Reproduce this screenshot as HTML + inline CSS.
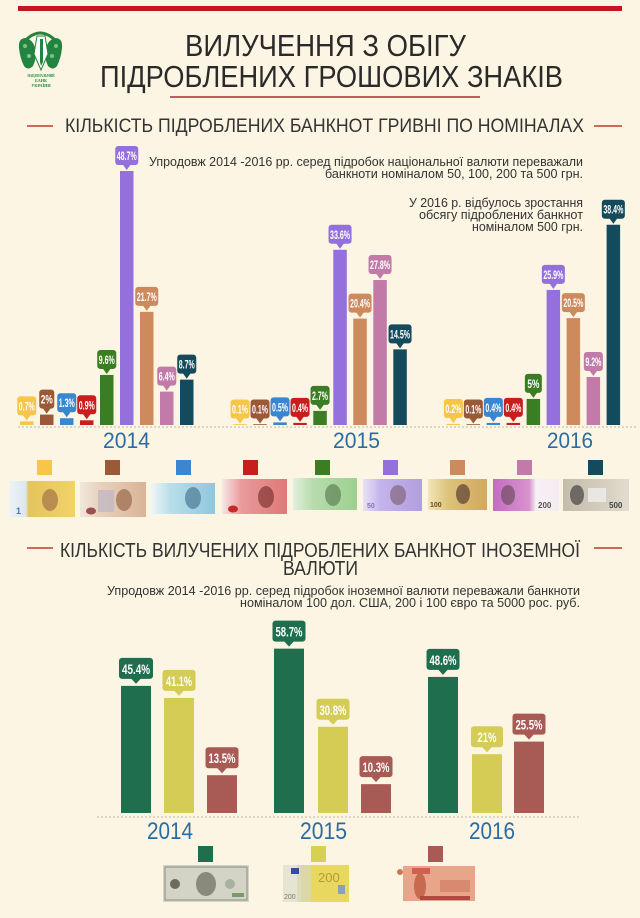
<!DOCTYPE html>
<html><head><meta charset="utf-8"><style>
html,body{margin:0;padding:0;background:#fcf5e3;}
svg{display:block;}
.t{font-family:"Liberation Sans Narrow","Liberation Sans",sans-serif;}
.p{font-family:"Liberation Sans",sans-serif;fill:#333;font-size:12.5px;}
.lb{font-family:"Liberation Sans Narrow","Liberation Sans",sans-serif;fill:#fff;font-size:12px;font-weight:bold;text-anchor:middle;}
.lb2{font-family:"Liberation Sans Narrow","Liberation Sans",sans-serif;fill:#fff;font-size:14px;font-weight:bold;text-anchor:middle;}
.yr{font-family:"Liberation Sans Narrow","Liberation Sans",sans-serif;fill:#2b6ca3;}
</style></head><body>
<svg width="640" height="918" viewBox="0 0 640 918" xmlns="http://www.w3.org/2000/svg">
<rect width="640" height="918" fill="#fcf5e3"/>
<rect x="18" y="6" width="604" height="5" fill="#c8141e"/>

<!-- logo -->
<g>
  <path d="M24,42 Q40,24 57,42" fill="none" stroke="#23843f" stroke-width="3"/>
  <path d="M19,48 Q18,38 26,38 Q33,40 35,48 Q37,58 33,66 Q28,71 24,66 Q20,58 19,48 Z" fill="#23843f"/>
  <path d="M62,48 Q63,38 55,38 Q48,40 46,48 Q44,58 48,66 Q53,71 57,66 Q61,58 62,48 Z" fill="#23843f"/>
  <circle cx="25" cy="46" r="2" fill="#7cc08a"/><circle cx="29" cy="56" r="2" fill="#7cc08a"/>
  <circle cx="56" cy="46" r="2" fill="#7cc08a"/><circle cx="52" cy="56" r="2" fill="#7cc08a"/>
  <path d="M37,36 L45,36 L48,54 L41,70 L34,54 Z" fill="#fff" stroke="#23843f" stroke-width="1"/>
  <path d="M40,39 L43,39 L43,62 L41,66 L40,62 Z" fill="#23843f"/>
  <text x="41" y="77" font-family="Liberation Serif,serif" font-size="4.2" font-weight="bold" fill="#23843f" text-anchor="middle" textLength="27" lengthAdjust="spacingAndGlyphs">НАЦІОНАЛЬНИЙ</text>
  <text x="41" y="82" font-family="Liberation Serif,serif" font-size="4.2" font-weight="bold" fill="#23843f" text-anchor="middle">БАНК</text>
  <text x="41" y="87" font-family="Liberation Serif,serif" font-size="4.2" font-weight="bold" fill="#23843f" text-anchor="middle">УКРАЇНИ</text>
</g>

<text class="t" x="185" y="56" font-size="31" fill="#2a2a2a" textLength="281" lengthAdjust="spacingAndGlyphs">ВИЛУЧЕННЯ З ОБІГУ</text>
<text class="t" x="100" y="87" font-size="31" fill="#2a2a2a" textLength="463" lengthAdjust="spacingAndGlyphs">ПІДРОБЛЕНИХ ГРОШОВИХ ЗНАКІВ</text>
<line x1="170" y1="97" x2="480" y2="97" stroke="#b02a2a" stroke-width="1.5"/>

<line x1="27" y1="126" x2="53" y2="126" stroke="#c0392b" stroke-width="1.5"/>
<line x1="594" y1="126" x2="622" y2="126" stroke="#c0392b" stroke-width="1.5"/>
<text class="t" x="65" y="132" font-size="19" fill="#333" textLength="519" lengthAdjust="spacingAndGlyphs">КІЛЬКІСТЬ ПІДРОБЛЕНИХ БАНКНОТ ГРИВНІ ПО НОМІНАЛАХ</text>

<text class="p" x="149" y="166" textLength="434" lengthAdjust="spacingAndGlyphs">Упродовж 2014 -2016 рр. серед підробок національної валюти переважали</text>
<text class="p" x="325" y="178" textLength="258" lengthAdjust="spacingAndGlyphs">банкноти номіналом 50, 100, 200 та 500 грн.</text>
<text class="p" x="409" y="207" textLength="174" lengthAdjust="spacingAndGlyphs">У 2016 р. відбулось зростання</text>
<text class="p" x="419" y="219" textLength="164" lengthAdjust="spacingAndGlyphs">обсягу підроблених банкнот</text>
<text class="p" x="472" y="231" textLength="111" lengthAdjust="spacingAndGlyphs">номіналом 500 грн.</text>

<line x1="18" y1="427" x2="636" y2="427" stroke="#bdb8aa" stroke-width="1" stroke-dasharray="2,2"/>

<rect x="20" y="421.35" width="13.5" height="3.65" fill="#f6c54a"/>
<rect x="40" y="414.57" width="13.5" height="10.43" fill="#9a5a38"/>
<rect x="60" y="418.22" width="13.5" height="6.78" fill="#3a86d0"/>
<rect x="80" y="420.31" width="13.5" height="4.69" fill="#c81e1e"/>
<rect x="100" y="374.94" width="13.5" height="50.06" fill="#3b7d22"/>
<rect x="120" y="171.03" width="13.5" height="253.97" fill="#9370db"/>
<rect x="140" y="311.83" width="13.5" height="113.17" fill="#cd8a5c"/>
<rect x="160" y="391.62" width="13.5" height="33.38" fill="#c27ba8"/>
<rect x="180" y="379.63" width="13.5" height="45.37" fill="#134b5c"/>
<rect x="233.3" y="424.2" width="13.5" height="0.8" fill="#f6c54a"/>
<rect x="253.3" y="424.2" width="13.5" height="0.8" fill="#9a5a38"/>
<rect x="273.3" y="422.39" width="13.5" height="2.61" fill="#3a86d0"/>
<rect x="293.3" y="422.91" width="13.5" height="2.09" fill="#c81e1e"/>
<rect x="313.3" y="410.92" width="13.5" height="14.08" fill="#3b7d22"/>
<rect x="333.3" y="249.78" width="13.5" height="175.22" fill="#9370db"/>
<rect x="353.3" y="318.61" width="13.5" height="106.39" fill="#cd8a5c"/>
<rect x="373.3" y="280.02" width="13.5" height="144.98" fill="#c27ba8"/>
<rect x="393.3" y="349.38" width="13.5" height="75.62" fill="#134b5c"/>
<rect x="446.6" y="423.96" width="13.5" height="1.04" fill="#f6c54a"/>
<rect x="466.6" y="424.2" width="13.5" height="0.8" fill="#9a5a38"/>
<rect x="486.6" y="422.91" width="13.5" height="2.09" fill="#3a86d0"/>
<rect x="506.6" y="422.91" width="13.5" height="2.09" fill="#c81e1e"/>
<rect x="526.6" y="398.92" width="13.5" height="26.08" fill="#3b7d22"/>
<rect x="546.6" y="289.93" width="13.5" height="135.07" fill="#9370db"/>
<rect x="566.6" y="318.09" width="13.5" height="106.91" fill="#cd8a5c"/>
<rect x="586.6" y="377.02" width="13.5" height="47.98" fill="#c27ba8"/>
<rect x="606.6" y="224.74" width="13.5" height="200.26" fill="#134b5c"/>

<g transform="translate(26.75,421.35)" fill="#f6c54a"><rect x="-9.5" y="-25" width="19" height="19" rx="3"/><polygon points="-4,-6.5 4,-6.5 0,-1"/><text class="lb" x="0" y="-11" textLength="16" lengthAdjust="spacingAndGlyphs">0.7%</text></g>
<g transform="translate(46.75,414.57)" fill="#9a5a38"><rect x="-7.5" y="-25" width="15" height="19" rx="3"/><polygon points="-4,-6.5 4,-6.5 0,-1"/><text class="lb" x="0" y="-11" textLength="12" lengthAdjust="spacingAndGlyphs">2%</text></g>
<g transform="translate(66.75,418.22)" fill="#3a86d0"><rect x="-9.5" y="-25" width="19" height="19" rx="3"/><polygon points="-4,-6.5 4,-6.5 0,-1"/><text class="lb" x="0" y="-11" textLength="16" lengthAdjust="spacingAndGlyphs">1.3%</text></g>
<g transform="translate(86.75,420.31)" fill="#c81e1e"><rect x="-9.5" y="-25" width="19" height="19" rx="3"/><polygon points="-4,-6.5 4,-6.5 0,-1"/><text class="lb" x="0" y="-11" textLength="16" lengthAdjust="spacingAndGlyphs">0.9%</text></g>
<g transform="translate(106.75,374.94)" fill="#3b7d22"><rect x="-9.5" y="-25" width="19" height="19" rx="3"/><polygon points="-4,-6.5 4,-6.5 0,-1"/><text class="lb" x="0" y="-11" textLength="16" lengthAdjust="spacingAndGlyphs">9.6%</text></g>
<g transform="translate(126.75,171.03)" fill="#9370db"><rect x="-11.5" y="-25" width="23" height="19" rx="3"/><polygon points="-4,-6.5 4,-6.5 0,-1"/><text class="lb" x="0" y="-11" textLength="20" lengthAdjust="spacingAndGlyphs">48.7%</text></g>
<g transform="translate(146.75,311.83)" fill="#cd8a5c"><rect x="-11.5" y="-25" width="23" height="19" rx="3"/><polygon points="-4,-6.5 4,-6.5 0,-1"/><text class="lb" x="0" y="-11" textLength="20" lengthAdjust="spacingAndGlyphs">21.7%</text></g>
<g transform="translate(166.75,391.62)" fill="#c27ba8"><rect x="-9.5" y="-25" width="19" height="19" rx="3"/><polygon points="-4,-6.5 4,-6.5 0,-1"/><text class="lb" x="0" y="-11" textLength="16" lengthAdjust="spacingAndGlyphs">6.4%</text></g>
<g transform="translate(186.75,379.63)" fill="#134b5c"><rect x="-9.5" y="-25" width="19" height="19" rx="3"/><polygon points="-4,-6.5 4,-6.5 0,-1"/><text class="lb" x="0" y="-11" textLength="16" lengthAdjust="spacingAndGlyphs">8.7%</text></g>
<g transform="translate(240.05,424.48)" fill="#f6c54a"><rect x="-9.5" y="-25" width="19" height="19" rx="3"/><polygon points="-4,-6.5 4,-6.5 0,-1"/><text class="lb" x="0" y="-11" textLength="16" lengthAdjust="spacingAndGlyphs">0.1%</text></g>
<g transform="translate(260.05,424.48)" fill="#9a5a38"><rect x="-9.5" y="-25" width="19" height="19" rx="3"/><polygon points="-4,-6.5 4,-6.5 0,-1"/><text class="lb" x="0" y="-11" textLength="16" lengthAdjust="spacingAndGlyphs">0.1%</text></g>
<g transform="translate(280.05,422.39)" fill="#3a86d0"><rect x="-9.5" y="-25" width="19" height="19" rx="3"/><polygon points="-4,-6.5 4,-6.5 0,-1"/><text class="lb" x="0" y="-11" textLength="16" lengthAdjust="spacingAndGlyphs">0.5%</text></g>
<g transform="translate(300.05,422.91)" fill="#c81e1e"><rect x="-9.5" y="-25" width="19" height="19" rx="3"/><polygon points="-4,-6.5 4,-6.5 0,-1"/><text class="lb" x="0" y="-11" textLength="16" lengthAdjust="spacingAndGlyphs">0.4%</text></g>
<g transform="translate(320.05,410.92)" fill="#3b7d22"><rect x="-9.5" y="-25" width="19" height="19" rx="3"/><polygon points="-4,-6.5 4,-6.5 0,-1"/><text class="lb" x="0" y="-11" textLength="16" lengthAdjust="spacingAndGlyphs">2.7%</text></g>
<g transform="translate(340.05,249.78)" fill="#9370db"><rect x="-11.5" y="-25" width="23" height="19" rx="3"/><polygon points="-4,-6.5 4,-6.5 0,-1"/><text class="lb" x="0" y="-11" textLength="20" lengthAdjust="spacingAndGlyphs">33.6%</text></g>
<g transform="translate(360.05,318.61)" fill="#cd8a5c"><rect x="-11.5" y="-25" width="23" height="19" rx="3"/><polygon points="-4,-6.5 4,-6.5 0,-1"/><text class="lb" x="0" y="-11" textLength="20" lengthAdjust="spacingAndGlyphs">20.4%</text></g>
<g transform="translate(380.05,280.02)" fill="#c27ba8"><rect x="-11.5" y="-25" width="23" height="19" rx="3"/><polygon points="-4,-6.5 4,-6.5 0,-1"/><text class="lb" x="0" y="-11" textLength="20" lengthAdjust="spacingAndGlyphs">27.8%</text></g>
<g transform="translate(400.05,349.38)" fill="#134b5c"><rect x="-11.5" y="-25" width="23" height="19" rx="3"/><polygon points="-4,-6.5 4,-6.5 0,-1"/><text class="lb" x="0" y="-11" textLength="20" lengthAdjust="spacingAndGlyphs">14.5%</text></g>
<g transform="translate(453.35,423.96)" fill="#f6c54a"><rect x="-9.5" y="-25" width="19" height="19" rx="3"/><polygon points="-4,-6.5 4,-6.5 0,-1"/><text class="lb" x="0" y="-11" textLength="16" lengthAdjust="spacingAndGlyphs">0.2%</text></g>
<g transform="translate(473.35,424.48)" fill="#9a5a38"><rect x="-9.5" y="-25" width="19" height="19" rx="3"/><polygon points="-4,-6.5 4,-6.5 0,-1"/><text class="lb" x="0" y="-11" textLength="16" lengthAdjust="spacingAndGlyphs">0.1%</text></g>
<g transform="translate(493.35,422.91)" fill="#3a86d0"><rect x="-9.5" y="-25" width="19" height="19" rx="3"/><polygon points="-4,-6.5 4,-6.5 0,-1"/><text class="lb" x="0" y="-11" textLength="16" lengthAdjust="spacingAndGlyphs">0.4%</text></g>
<g transform="translate(513.35,422.91)" fill="#c81e1e"><rect x="-9.5" y="-25" width="19" height="19" rx="3"/><polygon points="-4,-6.5 4,-6.5 0,-1"/><text class="lb" x="0" y="-11" textLength="16" lengthAdjust="spacingAndGlyphs">0.4%</text></g>
<g transform="translate(533.35,398.92)" fill="#3b7d22"><rect x="-8.5" y="-25" width="17" height="19" rx="3"/><polygon points="-4,-6.5 4,-6.5 0,-1"/><text class="lb" x="0" y="-11" textLength="12" lengthAdjust="spacingAndGlyphs">5%</text></g>
<g transform="translate(553.35,289.93)" fill="#9370db"><rect x="-11.5" y="-25" width="23" height="19" rx="3"/><polygon points="-4,-6.5 4,-6.5 0,-1"/><text class="lb" x="0" y="-11" textLength="20" lengthAdjust="spacingAndGlyphs">25.9%</text></g>
<g transform="translate(573.35,318.09)" fill="#cd8a5c"><rect x="-11.5" y="-25" width="23" height="19" rx="3"/><polygon points="-4,-6.5 4,-6.5 0,-1"/><text class="lb" x="0" y="-11" textLength="20" lengthAdjust="spacingAndGlyphs">20.5%</text></g>
<g transform="translate(593.35,377.02)" fill="#c27ba8"><rect x="-9.5" y="-25" width="19" height="19" rx="3"/><polygon points="-4,-6.5 4,-6.5 0,-1"/><text class="lb" x="0" y="-11" textLength="16" lengthAdjust="spacingAndGlyphs">9.2%</text></g>
<g transform="translate(613.35,224.74)" fill="#134b5c"><rect x="-11.5" y="-25" width="23" height="19" rx="3"/><polygon points="-4,-6.5 4,-6.5 0,-1"/><text class="lb" x="0" y="-11" textLength="20" lengthAdjust="spacingAndGlyphs">38.4%</text></g>

<text class="yr" x="103" y="448" font-size="22" textLength="47" lengthAdjust="spacingAndGlyphs">2014</text>
<text class="yr" x="333" y="448" font-size="22" textLength="47" lengthAdjust="spacingAndGlyphs">2015</text>
<text class="yr" x="547" y="448" font-size="22" textLength="46" lengthAdjust="spacingAndGlyphs">2016</text>

<rect x="37" y="460" width="15" height="15" fill="#f6c54a"/>
<rect x="105" y="460" width="15" height="15" fill="#9a5a38"/>
<rect x="176" y="460" width="15" height="15" fill="#3a86d0"/>
<rect x="243" y="460" width="15" height="15" fill="#c81e1e"/>
<rect x="315" y="460" width="15" height="15" fill="#3b7d22"/>
<rect x="383" y="460" width="15" height="15" fill="#9370db"/>
<rect x="450" y="460" width="15" height="15" fill="#cd8a5c"/>
<rect x="517" y="460" width="15" height="15" fill="#c27ba8"/>
<rect x="588" y="460" width="15" height="15" fill="#134b5c"/>

<defs>
  <linearGradient id="g1" x1="0" x2="1"><stop offset="0" stop-color="#eef3f6"/><stop offset="0.25" stop-color="#dbe8ef"/><stop offset="0.3" stop-color="#e4c45e"/><stop offset="1" stop-color="#f1d36a"/></linearGradient>
  <linearGradient id="g2" x1="0" x2="1"><stop offset="0" stop-color="#f1e6dc"/><stop offset="0.3" stop-color="#e7d2bd"/><stop offset="1" stop-color="#d9b497"/></linearGradient>
  <linearGradient id="g3" x1="0" x2="1"><stop offset="0" stop-color="#f0f6f8"/><stop offset="0.3" stop-color="#b9deea"/><stop offset="1" stop-color="#8fc7dd"/></linearGradient>
  <linearGradient id="g4" x1="0" x2="1"><stop offset="0" stop-color="#f7e7e7"/><stop offset="0.3" stop-color="#e99a9a"/><stop offset="1" stop-color="#e07878"/></linearGradient>
  <linearGradient id="g5" x1="0" x2="1"><stop offset="0" stop-color="#e2f0dc"/><stop offset="0.3" stop-color="#b8dcae"/><stop offset="1" stop-color="#9dd08f"/></linearGradient>
  <linearGradient id="g6" x1="0" x2="1"><stop offset="0" stop-color="#e8e2f6"/><stop offset="0.3" stop-color="#c4b4ea"/><stop offset="1" stop-color="#b19ee0"/></linearGradient>
  <linearGradient id="g7" x1="0" x2="1"><stop offset="0" stop-color="#f0e6b8"/><stop offset="0.35" stop-color="#dcc27a"/><stop offset="1" stop-color="#d2a860"/></linearGradient>
  <linearGradient id="g8" x1="0" x2="1"><stop offset="0" stop-color="#c46cc2"/><stop offset="0.55" stop-color="#d893cc"/><stop offset="0.65" stop-color="#f7f0f4"/><stop offset="1" stop-color="#f4ecf0"/></linearGradient>
  <linearGradient id="g9" x1="0" x2="1"><stop offset="0" stop-color="#c4bdae"/><stop offset="0.5" stop-color="#d2cbbb"/><stop offset="1" stop-color="#e2dccf"/></linearGradient>
</defs>
<g>
  <rect x="9" y="481" width="66" height="36" fill="url(#g1)"/>
  <ellipse cx="50" cy="500" rx="8" ry="11" fill="#a8784a" opacity="0.75"/>
  <text x="16" y="514" font-family="Liberation Sans,sans-serif" font-size="9" font-weight="bold" fill="#3a7ac0">1</text>
</g>
<g>
  <rect x="80" y="482" width="66" height="35" fill="url(#g2)"/>
  <rect x="98" y="490" width="16" height="22" fill="#b8b0c8" opacity="0.6"/>
  <ellipse cx="124" cy="500" rx="8" ry="11" fill="#9a6a48" opacity="0.7"/>
  <ellipse cx="91" cy="511" rx="5" ry="3.5" fill="#9a5050"/>
</g>
<g>
  <rect x="151" y="483" width="64" height="31" fill="url(#g3)"/>
  <ellipse cx="193" cy="498" rx="8" ry="11" fill="#4a7a96" opacity="0.7"/>
</g>
<g>
  <rect x="222" y="479" width="65" height="35" fill="url(#g4)"/>
  <ellipse cx="266" cy="497" rx="8" ry="11" fill="#7a3030" opacity="0.65"/>
  <ellipse cx="233" cy="509" rx="5" ry="3.5" fill="#c82a2a"/>
</g>
<g>
  <rect x="293" y="478" width="64" height="32" fill="url(#g5)"/>
  <ellipse cx="333" cy="495" rx="8" ry="11" fill="#5a7a52" opacity="0.65"/>
</g>
<g>
  <rect x="363" y="479" width="59" height="32" fill="url(#g6)"/>
  <ellipse cx="398" cy="495" rx="8" ry="10" fill="#7a5a6a" opacity="0.6"/>
  <text x="367" y="508" font-family="Liberation Sans,sans-serif" font-size="7" font-weight="bold" fill="#8a70c0">50</text>
</g>
<g>
  <rect x="428" y="479" width="59" height="31" fill="url(#g7)"/>
  <ellipse cx="463" cy="494" rx="7" ry="10" fill="#5a4030" opacity="0.7"/>
  <text x="430" y="507" font-family="Liberation Sans,sans-serif" font-size="7" font-weight="bold" fill="#6a4a20">100</text>
</g>
<g>
  <rect x="493" y="479" width="66" height="32" fill="url(#g8)"/>
  <ellipse cx="508" cy="495" rx="7" ry="10" fill="#6a4a5a" opacity="0.65"/>
  <text x="538" y="508" font-family="Liberation Sans,sans-serif" font-size="8" font-weight="bold" fill="#555">200</text>
</g>
<g>
  <rect x="563" y="479" width="66" height="32" fill="url(#g9)"/>
  <ellipse cx="577" cy="495" rx="7" ry="10" fill="#3a3a3a" opacity="0.65"/>
  <rect x="588" y="488" width="18" height="14" fill="#eee" opacity="0.8"/>
  <text x="609" y="508" font-family="Liberation Sans,sans-serif" font-size="8" font-weight="bold" fill="#444">500</text>
</g>

<line x1="27" y1="548" x2="53" y2="548" stroke="#c0392b" stroke-width="1.5"/>
<line x1="594" y1="548" x2="622" y2="548" stroke="#c0392b" stroke-width="1.5"/>
<text class="t" x="60" y="557" font-size="20" fill="#333" textLength="520" lengthAdjust="spacingAndGlyphs">КІЛЬКІСТЬ ВИЛУЧЕНИХ ПІДРОБЛЕНИХ БАНКНОТ ІНОЗЕМНОЇ</text>
<text class="t" x="283" y="575" font-size="20" fill="#333" textLength="75" lengthAdjust="spacingAndGlyphs">ВАЛЮТИ</text>
<text class="p" x="107" y="595" textLength="473" lengthAdjust="spacingAndGlyphs">Упродовж 2014 -2016 рр. серед підробок іноземної валюти переважали банкноти</text>
<text class="p" x="240" y="607" textLength="340" lengthAdjust="spacingAndGlyphs">номіналом 100 дол. США, 200 і 100 євро та 5000 рос. руб.</text>

<line x1="97" y1="817" x2="580" y2="817" stroke="#bdb8aa" stroke-width="1" stroke-dasharray="2,2"/>

<rect x="121" y="685.88" width="30" height="127.12" fill="#1f6e4e"/>
<rect x="164" y="697.92" width="30" height="115.08" fill="#d4cc55"/>
<rect x="207" y="775.2" width="30" height="37.8" fill="#a85a55"/>
<rect x="274" y="648.64" width="30" height="164.36" fill="#1f6e4e"/>
<rect x="318" y="726.76" width="30" height="86.24" fill="#d4cc55"/>
<rect x="361" y="784.16" width="30" height="28.84" fill="#a85a55"/>
<rect x="428" y="676.92" width="30" height="136.08" fill="#1f6e4e"/>
<rect x="472" y="754.2" width="30" height="58.8" fill="#d4cc55"/>
<rect x="514" y="741.6" width="30" height="71.4" fill="#a85a55"/>

<g transform="translate(136,685.88)" fill="#1f6e4e"><rect x="-17" y="-28" width="34" height="21" rx="3"/><polygon points="-5,-7.5 5,-7.5 0,-2"/><text class="lb2" x="0" y="-12" textLength="28" lengthAdjust="spacingAndGlyphs">45.4%</text></g>
<g transform="translate(179,697.92)" fill="#d4cc55"><rect x="-16.5" y="-28" width="33" height="21" rx="3"/><polygon points="-5,-7.5 5,-7.5 0,-2"/><text class="lb2" x="0" y="-12" textLength="26" lengthAdjust="spacingAndGlyphs">41.1%</text></g>
<g transform="translate(222,775.2)" fill="#a85a55"><rect x="-16.5" y="-28" width="33" height="21" rx="3"/><polygon points="-5,-7.5 5,-7.5 0,-2"/><text class="lb2" x="0" y="-12" textLength="27" lengthAdjust="spacingAndGlyphs">13.5%</text></g>
<g transform="translate(289,648.64)" fill="#1f6e4e"><rect x="-16.5" y="-28" width="33" height="21" rx="3"/><polygon points="-5,-7.5 5,-7.5 0,-2"/><text class="lb2" x="0" y="-12" textLength="27" lengthAdjust="spacingAndGlyphs">58.7%</text></g>
<g transform="translate(333,726.76)" fill="#d4cc55"><rect x="-16.5" y="-28" width="33" height="21" rx="3"/><polygon points="-5,-7.5 5,-7.5 0,-2"/><text class="lb2" x="0" y="-12" textLength="27" lengthAdjust="spacingAndGlyphs">30.8%</text></g>
<g transform="translate(376,784.16)" fill="#a85a55"><rect x="-16.5" y="-28" width="33" height="21" rx="3"/><polygon points="-5,-7.5 5,-7.5 0,-2"/><text class="lb2" x="0" y="-12" textLength="27" lengthAdjust="spacingAndGlyphs">10.3%</text></g>
<g transform="translate(443,676.92)" fill="#1f6e4e"><rect x="-16.5" y="-28" width="33" height="21" rx="3"/><polygon points="-5,-7.5 5,-7.5 0,-2"/><text class="lb2" x="0" y="-12" textLength="27" lengthAdjust="spacingAndGlyphs">48.6%</text></g>
<g transform="translate(487,754.2)" fill="#d4cc55"><rect x="-16" y="-28" width="32" height="21" rx="3"/><polygon points="-5,-7.5 5,-7.5 0,-2"/><text class="lb2" x="0" y="-12" textLength="19" lengthAdjust="spacingAndGlyphs">21%</text></g>
<g transform="translate(529,741.6)" fill="#a85a55"><rect x="-16.5" y="-28" width="33" height="21" rx="3"/><polygon points="-5,-7.5 5,-7.5 0,-2"/><text class="lb2" x="0" y="-12" textLength="27" lengthAdjust="spacingAndGlyphs">25.5%</text></g>

<text class="yr" x="147" y="839" font-size="24" textLength="46" lengthAdjust="spacingAndGlyphs">2014</text>
<text class="yr" x="300" y="839" font-size="24" textLength="47" lengthAdjust="spacingAndGlyphs">2015</text>
<text class="yr" x="469" y="839" font-size="24" textLength="46" lengthAdjust="spacingAndGlyphs">2016</text>

<rect x="198" y="846" width="15" height="16" fill="#1f6e4e"/>
<rect x="311" y="846" width="15" height="16" fill="#d8d050"/>
<rect x="428" y="846" width="15" height="16" fill="#a85a55"/>

<g>
  <rect x="163" y="865" width="86" height="37" fill="#d3d4c6"/>
  <rect x="165" y="867" width="82" height="33" fill="none" stroke="#8a8c80" stroke-width="1"/>
  <ellipse cx="206" cy="884" rx="10" ry="12" fill="#8a8a7c"/>
  <circle cx="175" cy="884" r="5" fill="#6a6c60"/>
  <circle cx="230" cy="884" r="5" fill="#a8b0a0"/>
  <rect x="232" y="893" width="12" height="4" fill="#7a9a6a"/>
</g>
<g>
  <rect x="283" y="865" width="66" height="37" fill="#e6e4d2"/>
  <rect x="301" y="865" width="48" height="37" fill="#e8d860"/>
  <rect x="297" y="865" width="14" height="37" fill="#d8d8b8" opacity="0.8"/>
  <rect x="291" y="868" width="8" height="6" fill="#3a4aa0"/>
  <text x="318" y="882" font-family="Liberation Sans,sans-serif" font-size="13" fill="#b89a30">200</text>
  <text x="284" y="899" font-family="Liberation Sans,sans-serif" font-size="7" fill="#7a7a6a">200</text>
  <rect x="338" y="885" width="7" height="9" fill="#8aa0c0"/>
</g>
<g>
  <rect x="403" y="866" width="72" height="35" fill="#e9a589"/>
  <rect x="412" y="868" width="18" height="6" fill="#d06050"/>
  <ellipse cx="420" cy="886" rx="6" ry="13" fill="#c86a50"/>
  <circle cx="400" cy="872" r="3" fill="#c87a50"/>
  <rect x="440" y="880" width="30" height="12" fill="#d88a70"/>
  <rect x="420" y="896" width="50" height="4" fill="#b04a40"/>
</g>
</svg>
</body></html>
